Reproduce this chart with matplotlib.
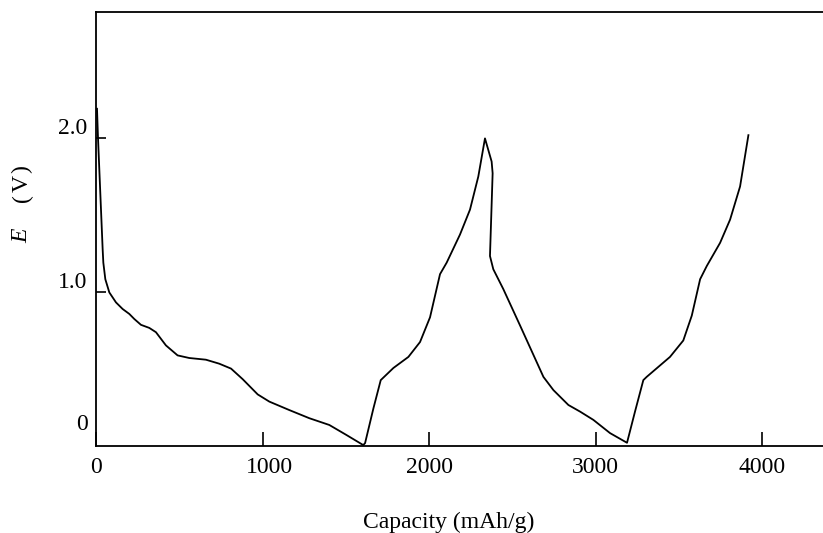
import matplotlib
matplotlib.use("Agg")
import matplotlib.pyplot as plt
import matplotlib.transforms as mtransforms

plt.rcParams['font.family'] = ['Liberation Serif', 'Noto Sans CJK SC']

# first discharge
dis1_cap = [6, 12, 40, 44, 56, 80, 120, 160, 200, 230, 270, 320, 360, 420, 490, 560,
            660, 740, 811, 881, 971, 1041, 1161, 1281, 1401, 1502, 1605]
dis1_v = [2.19, 2.0, 1.274, 1.188, 1.080, 0.994, 0.929, 0.886, 0.854, 0.821, 0.783,
          0.763, 0.735, 0.649, 0.584, 0.567, 0.556, 0.530, 0.498, 0.429, 0.330, 0.283,
          0.228, 0.175, 0.131, 0.067, 0.0]
# first charge
chg1_cap = [1605, 1616, 1666, 1710, 1786, 1876, 1946, 2006, 2066, 2106, 2186, 2246,
            2296, 2336]
chg1_v = [0.0, 0.013, 0.239, 0.423, 0.502, 0.574, 0.671, 0.832, 1.113, 1.188, 1.371,
          1.533, 1.749, 1.997]
# second discharge
dis2_cap = [2336, 2376, 2382, 2366, 2386, 2446, 2547, 2687, 2747, 2837, 2907, 2987,
            3087, 3189]
dis2_v = [1.997, 1.846, 1.770, 1.231, 1.145, 1.016, 0.778, 0.444, 0.358, 0.261, 0.218,
          0.164, 0.078, 0.015]
# second charge
chg2_cap = [3189, 3237, 3287, 3307, 3447, 3527, 3578, 3628, 3668, 3748, 3808, 3868, 3918]
chg2_v = [0.015, 0.218, 0.423, 0.444, 0.574, 0.681, 0.843, 1.080, 1.166, 1.317, 1.468,
          1.684, 2.018]

xticks = [0, 1000, 2000, 3000, 4000]
yticks = [0, 1.0, 2.0]
ytick_labels = ['0', '1.0', '2.0']

fig = plt.figure(figsize=(8.23, 5.33), dpi=100)
ax = fig.add_axes([96/823, 87/533, 1 - 96/823, 434/533])

cap = dis1_cap + chg1_cap[1:] + dis2_cap[1:] + chg2_cap[1:]
volt = dis1_v + chg1_v[1:] + dis2_v[1:] + chg2_v[1:]
ax.plot(cap, volt, color='black', lw=1.3)

ax.set_xlim(0, 4366)
ax.set_ylim(-0.006, 2.82)
ax.spines['right'].set_visible(False)
for s in ['left', 'bottom', 'top']:
    ax.spines[s].set_linewidth(1.3)

ax.set_xticks(xticks)
ax.set_xticklabels([str(t) for t in xticks])
ax.set_yticks(yticks)
ax.set_yticklabels(ytick_labels)
ax.tick_params(axis='x', direction='in', length=10, width=1.2, pad=8, labelsize=17)
ax.tick_params(axis='y', direction='in', length=7, width=1.2, pad=6, labelsize=17)
ax.yaxis.get_major_ticks()[0].tick1line.set_visible(False)

# shift the y labels upward like in the print
shifts = [23, 12, 12]
for lab, dy in zip(ax.get_yticklabels(), shifts):
    lab.set_transform(lab.get_transform() + mtransforms.ScaledTranslation(0, dy / 100, fig.dpi_scale_trans))
xl = ax.get_xticklabels()
xl[1].set_transform(xl[1].get_transform() + mtransforms.ScaledTranslation(7 / 100, 0, fig.dpi_scale_trans))

fig.text(449/823, 1 - 522/533, 'Capacity (mAh/g)', ha='center', va='center', fontsize=17)
# y label: italic E and spaced parentheses
fig.text(22/823, 1 - 236/533, 'E', style='italic', rotation=90, ha='center', va='center', fontsize=17)
fig.text(22/823, 1 - 198/533, '(', rotation=90, ha='center', va='center', fontsize=17)
fig.text(22/823, 1 - 183.5/533, 'V', rotation=90, ha='center', va='center', fontsize=17)
fig.text(22/823, 1 - 169/533, ')', rotation=90, ha='center', va='center', fontsize=17)

fig.savefig('out.png', dpi=100)
